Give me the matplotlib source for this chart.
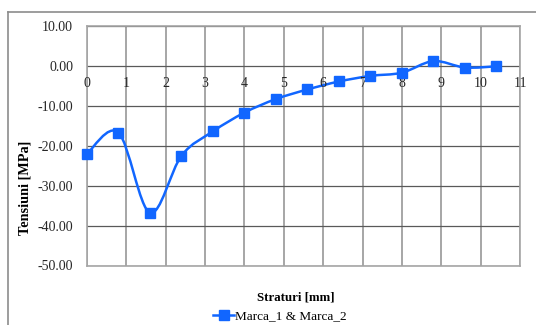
import matplotlib.pyplot as plt
from matplotlib.path import Path
from matplotlib.patches import PathPatch
from matplotlib.lines import Line2D
import numpy as np

plt.rcParams['font.family'] = ['Liberation Serif', 'DejaVu Serif']

# layer depth [mm] and residual stress [MPa]
straturi = [0.0, 0.8, 1.6, 2.4, 3.2, 4.0, 4.8, 5.6, 6.4, 7.2, 8.0, 8.8, 9.6, 10.4]
tensiuni = [-22.0, -16.7, -36.8, -22.5, -16.4, -11.7, -8.3, -5.9, -3.9, -2.5, -1.7, 1.2, -0.4, -0.1]
serie = 'Marca_1 & Marca_2'
x_ticks = list(range(0, 12))
y_ticks = [10, 0, -10, -20, -30, -40, -50]

blue = '#1166ff'
fs = 10

W, H = 536, 325
fig = plt.figure(figsize=(W / 100, H / 100), dpi=100)
ax = fig.add_axes([87 / W, 1 - 265.5 / H, (520 - 87) / W, (265.5 - 26) / H])

ax.set_xlim(0, 11)
ax.set_ylim(-50, 10)

# grid like Excel: light vertical, darker horizontal
for xv in x_ticks:
    ax.axvline(xv, color='#a6a6a6', lw=1.4, zorder=1)
for yv in y_ticks:
    ax.axhline(yv, color='#595959', lw=0.9, zorder=1)

# smoothed line (Excel-style bezier through the points)
px = np.array(straturi)
py = np.array(tensiuni)
n = len(px)
verts = [(px[0], py[0])]
codes = [Path.MOVETO]
for i in range(n - 1):
    a = max(i - 1, 0)
    b = min(i + 2, n - 1)
    c1 = (px[i] + (px[i + 1] - px[a]) / 6, py[i] + (py[i + 1] - py[a]) / 6)
    c2 = (px[i + 1] - (px[b] - px[i]) / 6, py[i + 1] - (py[b] - py[i]) / 6)
    verts += [c1, c2, (px[i + 1], py[i + 1])]
    codes += [Path.CURVE4] * 3
ax.add_patch(PathPatch(Path(verts, codes), fill=False, edgecolor=blue, lw=1.8, zorder=3))
ax.plot(straturi, tensiuni, ls='none', marker='s', ms=7, color=blue, zorder=4, clip_on=False)

for s in ax.spines.values():
    s.set_color('#a6a6a6')
    s.set_linewidth(1.2)

ax.set_xticks(x_ticks)
ax.set_yticks(y_ticks)
ax.set_yticklabels(['%.2f' % v for v in y_ticks])
ax.tick_params(length=0, labelsize=fs, colors='#262626')
ax.tick_params(axis='y', pad=10)
ax.set_xticklabels([])
for xv in x_ticks:
    ax.text(xv, -4.3, str(xv), ha='center', va='center', fontsize=fs, color='#262626')

fig.text(25 / W, 1 - 188 / H, 'Tensiuni [MPa]', rotation=90, ha='center', va='center',
         fontsize=10.3, fontweight='bold')
fig.text(296 / W, 1 - 298 / H, 'Straturi [mm]', ha='center', va='center',
         fontsize=9.3, fontweight='bold')

handle = Line2D([], [], color=blue, lw=1.8, marker='s', ms=7)
fig.legend([handle], [serie], loc='center', bbox_to_anchor=(280 / W, 1 - 316 / H),
           frameon=False, fontsize=9.5, handlelength=1.6, handletextpad=0.1,
           borderpad=0, borderaxespad=0)

# outer chart frame (cut off at right and bottom)
fig.add_artist(Line2D([7.5 / W, 7.5 / W], [0, 1 - 12 / H], color='#8c8c8c', lw=1.2))
fig.add_artist(Line2D([7.5 / W, 1], [1 - 12 / H, 1 - 12 / H], color='#8c8c8c', lw=1.2))

fig.savefig('out.png', dpi=100)
